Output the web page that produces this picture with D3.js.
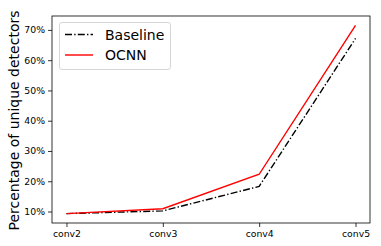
<!DOCTYPE html>
<html>
<head>
<meta charset="utf-8">
<script src="https://cdn.jsdelivr.net/npm/d3@7"></script>
<style>
  body { margin: 0; background: #fff; }
  svg { display: block; font-family: "DejaVu Sans", sans-serif; }
</style>
</head>
<body>
<svg id="chart"></svg>
<script>
// layers on x, percentage of unique detectors on y
const layers = ["conv2", "conv3", "conv4", "conv5"];
const baseline = [9.3, 10.2, 18.3, 67.2];
const ocnn = [9.3, 10.9, 22.3, 71.5];
const yTicks = [10, 20, 30, 40, 50, 60, 70];

const width = 381, height = 246;
const margin = {top: 16, right: 11, bottom: 23, left: 52};

const svg = d3.select("#chart").attr("width", width).attr("height", height);

const x = d3.scaleLinear()
  .domain([-0.15, layers.length - 1 + 0.15])
  .range([margin.left, width - margin.right]);

const y = d3.scaleLinear()
  .domain([6.2, 74.6])
  .range([height - margin.bottom, margin.top]);

// x axis
const xAxis = svg.append("g")
  .attr("transform", `translate(0,${height - margin.bottom})`)
  .call(d3.axisBottom(x).tickValues(d3.range(layers.length)).tickFormat(i => layers[i]).tickSize(4).tickPadding(3));
xAxis.select(".domain").remove();
xAxis.selectAll("text").attr("font-size", 9.3).attr("fill", "#000").attr("font-family", "DejaVu Sans");
xAxis.selectAll("line").attr("stroke-width", 0.8);

// y axis
const yAxis = svg.append("g")
  .attr("transform", `translate(${margin.left},0)`)
  .call(d3.axisLeft(y).tickValues(yTicks).tickFormat(d => d + "%").tickSize(4).tickPadding(3));
yAxis.select(".domain").remove();
yAxis.selectAll("text").attr("font-size", 9.3).attr("fill", "#000").attr("font-family", "DejaVu Sans");
yAxis.selectAll("line").attr("stroke-width", 0.8);

// frame
svg.append("rect")
  .attr("x", margin.left).attr("y", margin.top)
  .attr("width", width - margin.left - margin.right)
  .attr("height", height - margin.top - margin.bottom)
  .attr("fill", "none").attr("stroke", "#000").attr("stroke-width", 0.8);

const line = d3.line().x((d, i) => x(i)).y(d => y(d));

svg.append("path")
  .datum(baseline)
  .attr("d", line)
  .attr("fill", "none")
  .attr("stroke", "#000")
  .attr("stroke-width", 1.4)
  .attr("stroke-dasharray", "7,2.2,1.4,2.2");

svg.append("path")
  .datum(ocnn)
  .attr("d", line)
  .attr("fill", "none")
  .attr("stroke", "red")
  .attr("stroke-width", 1.4);

// y label
svg.append("text")
  .attr("transform", `translate(14,${(margin.top + height - margin.bottom) / 2 + 1}) rotate(-90)`)
  .attr("text-anchor", "middle")
  .attr("dominant-baseline", "central")
  .attr("font-size", 14)
  .text("Percentage of unique detectors");

// legend
const legend = svg.append("g");
legend.append("rect")
  .attr("x", 59.5).attr("y", 22.5).attr("width", 111).attr("height", 47).attr("rx", 2.5)
  .attr("fill", "#fff").attr("fill-opacity", 0.8).attr("stroke", "#ccc").attr("stroke-width", 0.8);

const items = [
  {name: "Baseline", color: "#000", dash: "7,2.2,1.4,2.2"},
  {name: "OCNN", color: "red", dash: null}
];
items.forEach((it, i) => {
  const cy = 34.5 + i * 20.5;
  legend.append("line")
    .attr("x1", 65).attr("x2", 93).attr("y1", cy).attr("y2", cy)
    .attr("stroke", it.color).attr("stroke-width", 1.4)
    .attr("stroke-dasharray", it.dash);
  legend.append("text")
    .attr("x", 105).attr("y", cy)
    .attr("dominant-baseline", "central")
    .attr("font-size", 14)
    .text(it.name);
});
</script>
</body>
</html>
